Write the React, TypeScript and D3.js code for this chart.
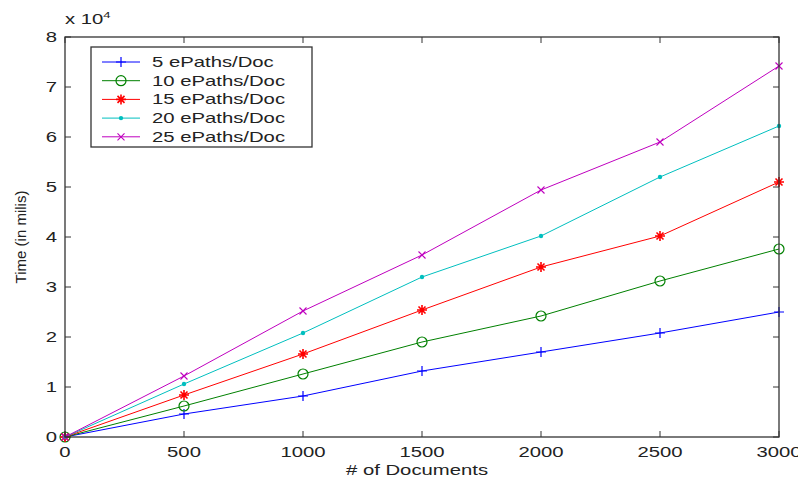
import React from 'react';
import * as d3 from 'd3';

const width = 798;
const height = 480;
const margin = {top: 37, right: 19, bottom: 43, left: 65};

const docs = [0, 500, 1000, 1500, 2000, 2500, 3000];
const xTicks = [0, 500, 1000, 1500, 2000, 2500, 3000];
const yTicks = [0, 1, 2, 3, 4, 5, 6, 7, 8];

const labels = ['5 ePaths/Doc', '10 ePaths/Doc', '15 ePaths/Doc', '20 ePaths/Doc', '25 ePaths/Doc'];
const colors = ['#0000ff', '#008000', '#ff0000', '#00bfbf', '#bf00bf'];
const markers = ['plus', 'circle', 'star', 'dot', 'cross'];

const paths5 = [0, 4600, 8200, 13200, 17000, 20800, 25000];
const paths10 = [0, 6200, 12600, 19000, 24200, 31200, 37600];
const paths15 = [0, 8400, 16600, 25400, 34000, 40200, 51000];
const paths20 = [0, 10600, 20800, 32000, 40200, 52000, 62200];
const paths25 = [0, 12200, 25200, 36400, 49400, 59000, 74200];
const series = [paths5, paths10, paths15, paths20, paths25];

const font = 'Liberation Sans, Arial, sans-serif';
const textColor = '#222';
// the source picture is stretched sideways, so the text is too
const stretch = 1.45;

type WideTextProps = {
  x: number;
  y: number;
  anchor?: 'start' | 'middle' | 'end';
  size?: number;
  children: React.ReactNode;
};

const WideText: React.FC<WideTextProps> = ({x, y, anchor = 'start', size = 14, children}) => (
  <text
    transform={`translate(${x},${y}) scale(${stretch},1)`}
    textAnchor={anchor}
    fontSize={size}
    fill={textColor}
  >
    {children}
  </text>
);

const Marker: React.FC<{kind: string; x: number; y: number; color: string}> = ({kind, x, y, color}) => {
  const s = 5;
  if (kind === 'plus') {
    return <path d={`M${x - s},${y}H${x + s}M${x},${y - s}V${y + s}`} stroke={color} strokeWidth={1.2} fill="none" />;
  }
  if (kind === 'circle') {
    return <circle cx={x} cy={y} r={5} stroke={color} strokeWidth={1.2} fill="none" />;
  }
  if (kind === 'star') {
    const d = s * 0.7;
    return (
      <path
        d={`M${x - s},${y}H${x + s}M${x},${y - s}V${y + s}M${x - d},${y - d}L${x + d},${y + d}M${x - d},${y + d}L${x + d},${y - d}`}
        stroke={color}
        strokeWidth={1.6}
        fill="none"
      />
    );
  }
  if (kind === 'dot') {
    return <circle cx={x} cy={y} r={2.2} fill={color} />;
  }
  const c = 3.5;
  return <path d={`M${x - c},${y - c}L${x + c},${y + c}M${x - c},${y + c}L${x + c},${y - c}`} stroke={color} strokeWidth={1.1} fill="none" />;
};

const App: React.FC = () => {
  const xScale = d3.scaleLinear().domain([0, 3000]).range([margin.left, width - margin.right]);
  const yScale = d3.scaleLinear().domain([0, 8]).range([height - margin.bottom, margin.top]);

  const line = d3.line<number>()
    .x((_, i) => xScale(docs[i]))
    .y(d => yScale(d / 1e4));

  const x0 = margin.left;
  const x1 = width - margin.right;
  const y0 = height - margin.bottom;
  const y1 = margin.top;
  const tick = 6;
  const axisColor = '#333';

  const legendX = 91;
  const legendY = 47;
  const legendW = 221;
  const legendH = 100;
  const rowH = 18.7;

  return (
    <svg width={width} height={height} style={{position: 'absolute', left: 0, top: 0}} fontFamily={font}>
      <rect width={width} height={height} fill="#fff" />

      {series.map((vals, i) => (
        <g key={labels[i]}>
          <path d={line(vals) || ''} fill="none" stroke={colors[i]} strokeWidth={1} />
          {vals.map((v, j) => (
            <Marker key={j} kind={markers[i]} x={xScale(docs[j])} y={yScale(v / 1e4)} color={colors[i]} />
          ))}
        </g>
      ))}

      <rect x={x0} y={y1} width={x1 - x0} height={y0 - y1} fill="none" stroke={axisColor} strokeWidth={1.3} />

      {xTicks.map(t => (
        <g key={`x${t}`}>
          <line x1={xScale(t)} x2={xScale(t)} y1={y0} y2={y0 - tick} stroke={axisColor} />
          <line x1={xScale(t)} x2={xScale(t)} y1={y1} y2={y1 + tick} stroke={axisColor} />
          <WideText x={xScale(t)} y={y0 + 20} anchor="middle">{t}</WideText>
        </g>
      ))}

      {yTicks.map(t => (
        <g key={`y${t}`}>
          <line x1={x0} x2={x0 + tick} y1={yScale(t)} y2={yScale(t)} stroke={axisColor} />
          <line x1={x1} x2={x1 - tick} y1={yScale(t)} y2={yScale(t)} stroke={axisColor} />
          <WideText x={x0 - 8} y={yScale(t) + 5} anchor="end">{t}</WideText>
        </g>
      ))}

      <WideText x={x0} y={y1 - 13}>
        x 10<tspan dy={-6} fontSize={9}>4</tspan>
      </WideText>

      <WideText x={(x0 + x1) / 2 - 5} y={height - 5} anchor="middle"># of Documents</WideText>
      <text
        transform={`translate(26, ${(y0 + y1) / 2}) rotate(-90)`}
        textAnchor="middle"
        fontSize={15}
        fill={textColor}
      >
        Time (in milis)
      </text>

      <rect x={legendX} y={legendY} width={legendW} height={legendH} fill="#fff" stroke={axisColor} strokeWidth={1.3} />
      {labels.map((lab, i) => {
        const ly = legendY + 15 + i * rowH;
        return (
          <g key={`l${lab}`}>
            <line x1={legendX + 11} x2={legendX + 49} y1={ly} y2={ly} stroke={colors[i]} strokeWidth={1} />
            <Marker kind={markers[i]} x={legendX + 30} y={ly} color={colors[i]} />
            <WideText x={legendX + 61} y={ly + 5}>{lab}</WideText>
          </g>
        );
      })}
    </svg>
  );
};

export default App;
